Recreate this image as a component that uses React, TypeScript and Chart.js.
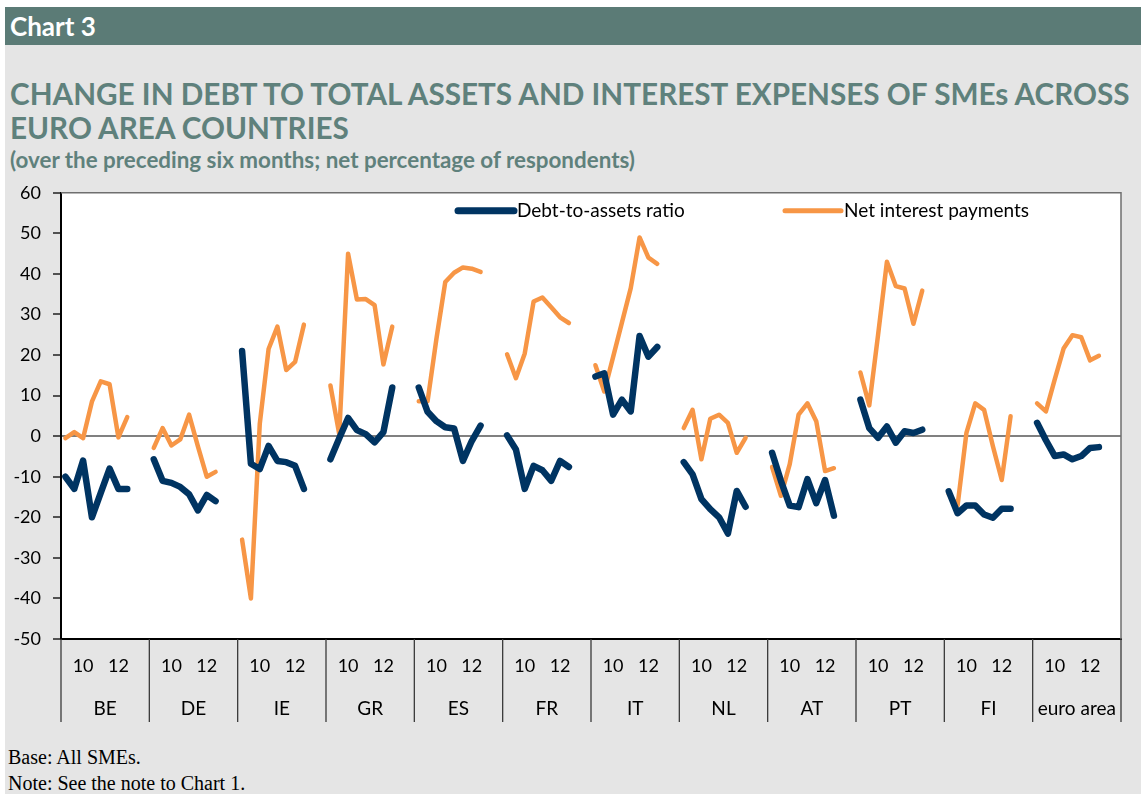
import React, { useEffect, useRef } from "react";
import { Chart, registerables } from "chart.js";

Chart.register(...registerables);

// ---------- data ----------
const countries = ["BE", "DE", "IE", "GR", "ES", "FR", "IT", "NL", "AT", "PT", "FI", "euro area"];
// ten half-year slots per country; the last two are empty gaps
const slotLabels = ["", "", "10", "", "", "", "12", "", "", ""];

const BE_debt = [-10, -13, -6, -20, -14, -8, -13, -13];
const DE_debt = [-5.7, -11, -11.5, -12.5, -14.3, -18.3, -14.5, -16];
const IE_debt = [21, -6.8, -8.1, -2.4, -6.1, -6.4, -7.3, -13];
const GR_debt = [-5.7, -0.5, 4.5, 1.5, 0.5, -1.5, 1, 12];
const ES_debt = [12, 6, 3.7, 2.2, 1.9, -6.1, -1.2, 2.6];
const FR_debt = [0.2, -3.3, -13, -7.3, -8.4, -11, -6.1, -7.6];
const IT_debt = [14.7, 15.5, 5.3, 9, 6.1, 24.7, 19.6, 22];
const NL_debt = [-6.4, -9.4, -15.5, -18, -20, -24, -13.5, -17.4];
const AT_debt = [-4.1, -11, -17.1, -17.5, -10.6, -16.5, -10.8, -19.6];
const PT_debt = [9, 2, -0.4, 2.4, -1.6, 1.2, 0.8, 1.6];
const FI_debt = [-13.6, -19, -17.1, -17.1, -19.3, -20.1, -17.9, -17.9];
const EA_debt = [3.3, -1, -4.9, -4.5, -5.7, -4.9, -2.9, -2.7];

const BE_interest = [-0.5, 1, -0.5, 8.5, 13.5, 12.8, -0.3, 4.7];
const DE_interest = [-2.9, 2, -2.3, -0.8, 5.3, -2.5, -10, -8.8];
const IE_interest = [-25.5, -40, 3, 21.5, 27, 16.3, 18.3, 27.5];
const GR_interest = [12.5, 0.5, 45, 33.7, 33.8, 32.3, 17.7, 27];
const ES_interest = [8.6, 8.6, 24, 38, 40.3, 41.6, 41.3, 40.5];
const FR_interest = [20.2, 14.3, 20.4, 33.2, 34.2, 31.8, 29.3, 27.9];
const IT_interest = [17.5, 11, 19.5, 28, 36.5, 49, 44, 42.5];
const NL_interest = [2, 6.5, -5.7, 4.3, 5.3, 3.3, -4.1, -0.4];
const AT_interest = [-7.6, -14.7, -6.9, 5.3, 8.1, 3.7, -8.6, -7.9];
const PT_interest = [15.7, 7.6, 25, 43, 37, 36.4, 27.7, 35.9];
const FI_interest = [-14.3, -17.1, 0.8, 8.1, 6.5, -2.5, -10.8, 4.9];
const EA_interest = [8.1, 6.1, 14, 21.6, 24.9, 24.4, 18.7, 19.8];

const yTicks = [-50, -40, -30, -20, -10, 0, 10, 20, 30, 40, 50, 60];

const seriesNames = ["Debt-to-assets ratio", "Net interest payments"];

// ---------- derived ----------
const debtGroups = [BE_debt, DE_debt, IE_debt, GR_debt, ES_debt, FR_debt, IT_debt, NL_debt, AT_debt, PT_debt, FI_debt, EA_debt];
const interestGroups = [BE_interest, DE_interest, IE_interest, GR_interest, ES_interest, FR_interest, IT_interest, NL_interest, AT_interest, PT_interest, FI_interest, EA_interest];

const expand = (groups: number[][]) =>
  groups.flatMap((g) => slotLabels.map((_, i) => (i < g.length ? g[i] : null)));

const labels = countries.flatMap((c) => slotLabels.map((s, i) => `${c}|${i}|${s}`));

const NAVY = "#003462";
const ORANGE = "#F79646";
const LABEL_FONT = "Lato, 'Noto Sans', sans-serif";

const customPlugin = {
  id: "custom",
  beforeDraw(chart: any) {
    const { ctx, chartArea } = chart;
    ctx.save();
    ctx.fillStyle = "#ffffff";
    ctx.fillRect(chartArea.left, chartArea.top, chartArea.right - chartArea.left, chartArea.bottom - chartArea.top);
    ctx.restore();
  },
  afterDraw(chart: any) {
    const { ctx, chartArea } = chart;
    const xs = chart.scales.x;
    const n = slotLabels.length;
    ctx.save();
    // plot border (top & right)
    ctx.strokeStyle = "#6f6f6f";
    ctx.lineWidth = 1.5;
    ctx.beginPath();
    ctx.moveTo(chartArea.left, chartArea.top);
    ctx.lineTo(chartArea.right, chartArea.top);
    ctx.lineTo(chartArea.right, chartArea.bottom);
    ctx.stroke();

    // category separators
    ctx.strokeStyle = "#3a3a3a";
    ctx.lineWidth = 1.3;
    const sepBottom = chartArea.bottom + 83;
    for (let g = 0; g <= countries.length; g++) {
      let x: number;
      if (g === 0) x = chartArea.left;
      else if (g === countries.length) x = chartArea.right;
      else x = (xs.getPixelForValue(g * n - 1) + xs.getPixelForValue(g * n)) / 2;
      ctx.beginPath();
      ctx.moveTo(x, chartArea.bottom);
      ctx.lineTo(x, sepBottom);
      ctx.stroke();
    }

    // labels
    ctx.fillStyle = "#000";
    ctx.textAlign = "center";
    ctx.textBaseline = "middle";
    countries.forEach((c, g) => {
      ctx.font = `18px ${LABEL_FONT}`;
      slotLabels.forEach((s, i) => {
        if (s) ctx.fillText(s, xs.getPixelForValue(g * n + i), chartArea.bottom + 27);
      });
      const cx = (xs.getPixelForValue(g * n + 4) + xs.getPixelForValue(g * n + 5)) / 2;
      ctx.font = `19px ${LABEL_FONT}`;
      ctx.fillText(c, cx, chartArea.bottom + 70);
    });

    // legend inside plot
    const ly = chartArea.top + 18;
    const items = [
      { x0: chartArea.left + 397, x1: chartArea.left + 453, color: NAVY, w: 7, label: chart.data.datasets[0].label },
      { x0: chartArea.left + 724, x1: chartArea.left + 780, color: ORANGE, w: 5, label: chart.data.datasets[1].label },
    ];
    items.forEach((it) => {
      ctx.strokeStyle = it.color;
      ctx.lineWidth = it.w;
      ctx.lineCap = "round";
      ctx.beginPath();
      ctx.moveTo(it.x0, ly);
      ctx.lineTo(it.x1, ly);
      ctx.stroke();
      ctx.fillStyle = "#000";
      ctx.textAlign = "left";
      ctx.font = `19px ${LABEL_FONT}`;
      ctx.fillText(it.label, it.x1 + 3, ly);
    });
    ctx.restore();
  },
};

function ChartCanvas() {
  const ref = useRef<HTMLCanvasElement | null>(null);
  useEffect(() => {
    if (!ref.current) return;
    const chart = new Chart(ref.current, {
      type: "line",
      data: {
        labels,
        datasets: [
          {
            label: seriesNames[0],
            data: expand(debtGroups),
            borderColor: NAVY,
            backgroundColor: NAVY,
            borderWidth: 6.5,
            pointRadius: 0,
            tension: 0,
            spanGaps: false,
            borderCapStyle: "round",
            borderJoinStyle: "round",
          },
          {
            label: seriesNames[1],
            data: expand(interestGroups),
            borderColor: ORANGE,
            backgroundColor: ORANGE,
            borderWidth: 4.5,
            pointRadius: 0,
            tension: 0,
            spanGaps: false,
            borderCapStyle: "round",
            borderJoinStyle: "round",
          },
        ],
      },
      options: {
        animation: false,
        responsive: false,
        maintainAspectRatio: false,
        layout: { padding: { top: 20, right: 25, left: 0, bottom: 0 } },
        plugins: { legend: { display: false }, tooltip: { enabled: false } },
        scales: {
          x: {
            type: "category",
            offset: true,
            grid: { display: false },
            ticks: { display: false },
            border: { display: true, color: "#000", width: 2 },
            afterFit: (s: any) => {
              s.height = 91;
            },
          },
          y: {
            min: yTicks[0],
            max: yTicks[yTicks.length - 1],
            afterBuildTicks: (s: any) => {
              s.ticks = yTicks.map((v) => ({ value: v }));
            },
            ticks: {
              color: "#000",
              padding: 12,
              font: { family: LABEL_FONT, size: 18 },
            },
            grid: {
              color: (c: any) => (c.tick && c.tick.value === 0 ? "#808080" : "rgba(0,0,0,0)"),
              lineWidth: 2,
              tickColor: "#000",
              tickLength: 8,
              tickWidth: 1.3,
            },
            border: { display: true, color: "#000", width: 2 },
            afterFit: (s: any) => {
              s.width = 61;
            },
          },
        },
      },
      plugins: [customPlugin],
    } as any);
    return () => chart.destroy();
  }, []);
  return <canvas ref={ref} width={1146} height={560} style={{ position: "absolute", left: 0, top: 170, width: 1146, height: 560 }} />;
}

export default function App() {
  const titleColor = "#5f817c";
  const titleFont = "Lato, 'Noto Sans', sans-serif";
  return (
    <div style={{ position: "absolute", left: 0, top: 0, width: 1146, height: 794, background: "#fff", overflow: "hidden" }}>
      <div style={{ position: "absolute", left: 5, top: 7, width: 1136, height: 800, background: "#e5e5e5" }} />
      <div style={{ position: "absolute", left: 5, top: 7, width: 1136, height: 38, background: "#5b7b76" }} />
      <div style={{ position: "absolute", left: 10, top: 7, height: 38, lineHeight: "38px", color: "#fff", fontFamily: titleFont, fontWeight: 700, fontSize: 26 }}>
        Chart 3
      </div>
      <div style={{ position: "absolute", left: 10, top: 77, color: titleColor, fontFamily: titleFont, fontWeight: 700, fontSize: 29.7, lineHeight: "34px", whiteSpace: "nowrap" }}>
        CHANGE IN DEBT TO TOTAL ASSETS AND INTEREST EXPENSES OF SMEs ACROSS
        <br />
        EURO AREA COUNTRIES
      </div>
      <div style={{ position: "absolute", left: 10, top: 146, color: titleColor, fontFamily: titleFont, fontWeight: 700, fontSize: 22.4, lineHeight: "28px", whiteSpace: "nowrap" }}>
        (over the preceding six months; net percentage of respondents)
      </div>
      <ChartCanvas />
      <div style={{ position: "absolute", left: 8, top: 744, fontFamily: "'Liberation Serif', 'Times New Roman', serif", fontSize: 20, lineHeight: "26px", color: "#000" }}>
        Base: All SMEs.
        <br />
        Note: See the note to Chart 1.
      </div>
    </div>
  );
}
